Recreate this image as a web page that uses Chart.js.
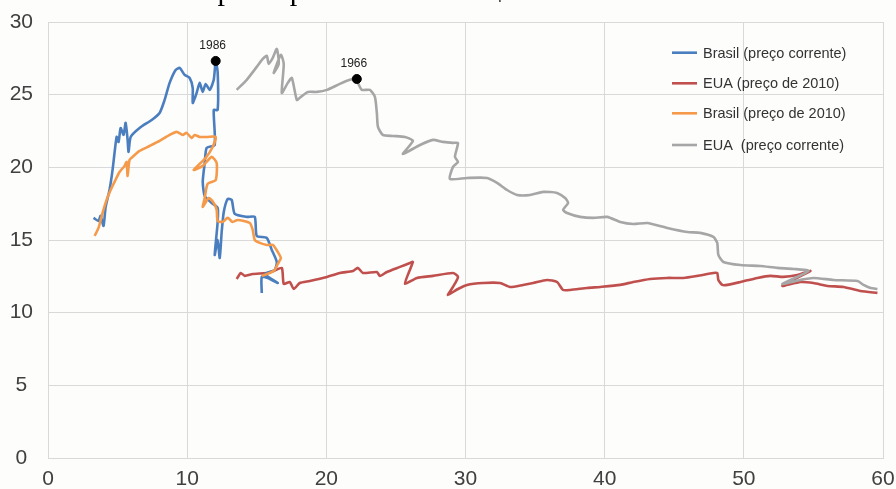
<!DOCTYPE html>
<html>
<head>
<meta charset="utf-8">
<script src="https://cdn.jsdelivr.net/npm/chart.js@4.4.1/dist/chart.umd.min.js"></script>
<style>
  html, body { margin: 0; padding: 0; background: #fdfdfc; }
  #wrap { position: relative; width: 896px; height: 489px; }
</style>
</head>
<body>
<div id="wrap"><canvas id="grafico"></canvas></div>
<script>
// Brasil (preço corrente)
const brasilCorrenteX = [3.27,3.63,3.78,3.99,4.14,4.42,4.64,4.93,5.07,5.22,5.43,5.58,5.72,5.79,5.94,6.58,7.45,8.02,8.38,8.74,9.17,9.46,9.82,10.18,10.40,10.40,10.68,10.90,11.12,11.33,11.62,11.91,12.05,12.19,12.19,11.91,11.98,11.40,11.26,11.12,11.26,11.76,12.19,12.19,11.98,12.19,12.34,12.48,12.63,12.91,13.20,13.42,14.28,14.86,15.0,15.72,16.08,16.44,16.29,15.58,16.51,15.79,15.36,15.36];
const brasilCorrenteY = [16.52,16.31,16.66,15.97,17.27,18.44,19.82,22.09,21.75,22.71,22.23,23.06,21.89,21.06,22.09,22.71,23.26,23.74,24.64,25.81,26.70,26.84,26.36,26.15,25.46,24.43,25.12,25.81,25.19,25.74,25.33,26.02,27.32,26.57,23.95,23.95,21.54,21.34,20.30,19.00,18.03,17.55,17.21,16.24,13.97,15.00,13.76,15.55,16.93,17.83,17.76,16.79,16.59,16.59,15.28,15.14,14.32,13.49,12.94,12.66,12.04,12.39,12.46,11.36];

// Brasil (preço de 2010)
const brasil2010X = [3.35,3.63,3.92,4.21,4.50,4.78,5.14,5.50,5.65,5.72,5.86,6.15,6.58,7.30,8.02,8.74,9.24,9.68,9.96,10.32,10.54,10.90,11.47,12.05,11.83,11.33,10.47,11.12,11.76,12.12,12.05,11.47,11.26,11.12,11.55,11.91,12.12,12.19,12.55,12.91,13.27,13.63,14.50,14.71,14.86,15.22,15.72,16.15,16.51,16.73,16.51,16.29,15.94,15.36];
const brasil2010Y = [15.28,15.83,16.86,17.76,18.44,19.00,19.68,20.10,20.37,19.41,20.51,20.78,21.13,21.47,21.82,22.23,22.44,22.23,22.37,22.02,22.23,22.09,22.09,22.09,21.40,20.65,19.82,20.10,20.72,20.30,19.13,18.86,17.89,17.27,17.89,17.55,17.07,16.31,16.24,16.52,16.24,16.38,16.17,15.69,15.00,14.80,14.66,14.66,14.18,13.76,13.35,12.94,12.73,12.53];

// EUA (preço de 2010)
const eua2010X = [13.56,13.85,14.14,14.71,15.72,16.22,16.80,16.94,17.37,17.66,18.09,18.81,20.04,20.97,21.91,22.27,22.63,23.63,23.85,24.35,25.29,26.01,26.22,25.94,25.65,26.51,27.66,29.10,29.46,29.10,28.74,29.46,30.11,31.26,32.48,33.20,34.14,34.86,35.86,36.58,37.01,37.52,38.74,39.68,41.12,42.05,43.27,44.50,45.65,46.65,47.81,48.09,48.17,48.45,48.81,49.75,50.97,51.91,52.84,53.85,54.78,52.77,54.06,55.0,56.01,57.16,58.38,59.60];
const eua2010Y = [12.32,12.73,12.53,12.66,12.73,12.87,13.08,11.98,12.11,11.63,12.04,12.18,12.46,12.73,12.87,13.08,12.73,12.80,12.53,12.80,13.15,13.42,13.49,12.80,11.98,12.39,12.53,12.73,12.46,11.77,11.22,11.63,11.91,12.04,12.04,11.77,11.91,12.04,12.25,12.11,11.56,11.56,11.70,11.77,11.91,12.11,12.32,12.39,12.39,12.53,12.73,12.73,12.25,11.91,11.91,12.11,12.39,12.53,12.46,12.59,12.87,11.84,12.11,12.04,11.84,11.77,11.49,11.36];

// EUA (preço corrente)
const euaCorrenteX = [13.56,14.28,15.0,15.43,15.72,15.86,16.15,16.44,16.58,16.22,16.73,16.94,16.80,17.23,17.52,17.88,18.17,18.67,19.32,20.04,20.97,21.69,22.19,22.27,22.55,23.13,23.49,23.63,23.71,24.06,24.78,25.65,26.22,25.50,26.73,27.66,28.38,29.10,29.46,29.24,29.46,29.10,28.88,30.11,31.55,32.27,32.99,33.71,34.64,35.58,36.58,37.16,37.37,37.01,37.30,38.24,39.17,40.18,41.12,42.05,43.06,44.50,45.94,46.87,47.81,48.09,48.17,48.53,49.76,51.19,52.41,53.56,54.64,52.77,54.06,55.0,56.44,58.17,58.60,59.11,59.60];
const euaCorrenteY = [25.33,26.02,26.91,27.46,27.67,27.12,27.53,28.15,27.12,26.50,27.74,27.12,25.12,25.81,26.15,24.64,24.85,25.19,25.19,25.33,25.74,26.02,26.08,25.81,25.33,25.33,24.85,23.74,22.78,22.23,22.16,22.09,21.82,20.92,21.54,21.89,21.75,21.68,21.68,20.72,20.37,20.03,19.20,19.27,19.27,18.93,18.44,18.10,18.10,18.31,18.24,17.89,17.55,17.07,16.86,16.59,16.52,16.59,16.24,16.10,16.17,15.83,15.55,15.49,15.21,14.80,13.97,13.49,13.28,13.21,13.08,13.01,12.87,11.98,12.25,12.39,12.25,12.18,11.91,11.70,11.63];

// Anos marcados
const marcosAno = ["1986", "1966"];
const marcosX = [12.05, 22.19];
const marcosY = [27.32, 26.08];

const xTicks = [0, 10, 20, 30, 40, 50, 60];
const yTicks = [0, 5, 10, 15, 20, 25, 30];

const fonteEixo = { family: "'Liberation Sans', Arial, sans-serif", size: 21 };

function pontos(xs, ys) {
  return xs.map((x, i) => ({ x: x, y: ys[i] }));
}

function serie(label, cor, xs, ys, ordem) {
  return {
    label: label,
    data: pontos(xs, ys),
    borderColor: cor,
    backgroundColor: cor,
    borderWidth: 2.6,
    showLine: true,
    pointRadius: 0,
    pointHoverRadius: 0,
    tension: 0.2,
    order: ordem,
  };
}

const datasets = [
  serie("Brasil (preço corrente)", "#4a7ebf", brasilCorrenteX, brasilCorrenteY, 2),
  serie("EUA (preço de 2010)", "#c0504d", eua2010X, eua2010Y, 4),
  serie("Brasil (preço de 2010)", "#f59a4a", brasil2010X, brasil2010Y, 1),
  serie("EUA  (preço corrente)", "#a6a6a6", euaCorrenteX, euaCorrenteY, 3),
  {
    label: "marcos",
    data: pontos(marcosX, marcosY),
    showLine: false,
    pointRadius: 4.5,
    pointBackgroundColor: "#000",
    pointBorderColor: "#000",
    order: 0,
  },
];

// Rótulos dos anos, legenda e título cortado
const extras = {
  id: "extras",
  afterDatasetsDraw(chart) {
    const ctx = chart.ctx;
    const xs = chart.scales.x;
    const ys = chart.scales.y;
    ctx.save();
    ctx.fillStyle = "#222";
    ctx.font = "12px 'Liberation Sans', Arial, sans-serif";
    ctx.textAlign = "center";
    ctx.textBaseline = "bottom";
    marcosAno.forEach((ano, i) => {
      ctx.fillText(ano, xs.getPixelForValue(marcosX[i]) - 3, ys.getPixelForValue(marcosY[i]) - 9);
    });

    // Legenda
    const rows = [52.7, 83.3, 113.3, 145];
    ctx.font = "14.5px 'Liberation Sans', Arial, sans-serif";
    ctx.textAlign = "left";
    ctx.textBaseline = "middle";
    for (let i = 0; i < 4; i++) {
      const ds = chart.data.datasets[i];
      ctx.strokeStyle = ds.borderColor;
      ctx.lineWidth = 2.6;
      ctx.beginPath();
      ctx.moveTo(672, rows[i]);
      ctx.lineTo(697, rows[i]);
      ctx.stroke();
      ctx.fillStyle = "#333";
      ctx.fillText(ds.label, 703, rows[i] + 1);
    }

    // Título (cortado na imagem)
    ctx.fillStyle = "#000";
    ctx.font = "30px 'Liberation Serif', 'Times New Roman', serif";
    ctx.textAlign = "center";
    ctx.textBaseline = "alphabetic";
    ctx.fillText("per capita em 1000 US$ de 2010", 414, 0);
    ctx.restore();
  },
};

const ctx = document.getElementById("grafico").getContext("2d");
new Chart(ctx, {
  type: "scatter",
  data: { datasets: datasets },
  options: {
    responsive: true,
    maintainAspectRatio: false,
    animation: false,
    layout: { padding: { top: 22, right: 13, left: 0, bottom: 0 } },
    plugins: { legend: { display: false }, tooltip: { enabled: false } },
    scales: {
      x: {
        type: "linear",
        min: 0,
        max: 60,
        afterFit: (s) => { s.height = 31; s.paddingLeft = 0; s.paddingRight = 0; },
        afterBuildTicks: (s) => { s.ticks = xTicks.map((v) => ({ value: v })); },
        grid: { color: "#d9d9d9", lineWidth: 1, drawTicks: false },
        border: { color: "#d9d9d9" },
        ticks: { padding: 9, color: "#404040", font: fonteEixo },
      },
      y: {
        type: "linear",
        min: 0,
        max: 30,
        afterFit: (s) => { s.width = 48; s.paddingTop = 0; s.paddingBottom = 0; },
        afterBuildTicks: (s) => { s.ticks = yTicks.map((v) => ({ value: v })); },
        grid: { color: "#d9d9d9", lineWidth: 1, drawTicks: false },
        border: { color: "#d9d9d9" },
        ticks: { padding: 15, crossAlign: "center", color: "#404040", font: fonteEixo },
      },
    },
  },
  plugins: [extras],
});
</script>
</body>
</html>
